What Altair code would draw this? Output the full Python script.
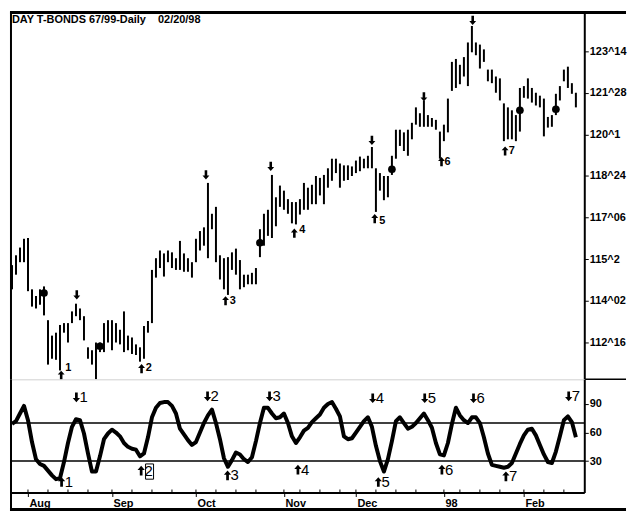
import altair as alt
import pandas as pd

# ---------------- data ----------------
high = [115.40, 115.77, 116.06, 116.39, 116.42, 114.49, 114.24, 114.49, 114.60, 113.33,
        112.75, 112.86, 113.15, 113.22, 113.22, 113.66, 113.95, 113.77, 113.48, 112.31,
        112.20, 112.49, 112.49, 113.22, 113.33, 113.33, 113.22, 112.97, 113.66, 112.75,
        112.68, 112.42, 112.31, 113.11, 113.30, 115.22, 115.66, 115.95, 115.84, 115.95,
        115.88, 115.66, 116.31, 115.84, 115.66, 115.51, 116.39, 116.68, 116.82, 118.49,
        117.33, 117.59, 115.77, 115.66, 115.70, 115.88, 116.02, 115.59, 115.04, 115.04,
        115.11, 115.29, 116.75, 117.33, 117.48, 118.79, 117.95, 118.39, 118.20, 117.88,
        117.77, 117.77, 117.88, 118.49, 118.31, 118.42, 118.75, 118.68, 118.79, 119.04,
        119.40, 119.40, 119.22, 119.15, 119.15, 119.11, 119.33, 119.48, 119.40, 119.51,
        119.84, 119.04, 118.86, 118.75, 118.75, 119.51, 120.49, 120.49, 120.39, 120.49,
        120.75, 121.33, 121.11, 121.59, 121.04, 120.93, 120.86, 120.42, 120.68, 121.66,
        123.04, 123.15, 122.93, 123.22, 123.77, 124.39, 123.77, 123.69, 123.51, 122.75,
        122.75, 122.49, 122.42, 121.48, 121.33, 121.22, 121.04, 122.06, 122.13, 122.42,
        122.06, 121.88, 121.77, 121.66, 120.97, 121.04, 121.84, 122.13, 122.75, 122.86,
        122.24, 121.88]

low = [114.49, 115.04, 115.51, 115.51, 114.42, 113.84, 113.77, 113.91, 113.51, 111.66,
       111.88, 111.84, 111.44, 112.86, 112.49, 113.22, 113.48, 113.33, 112.57, 111.88,
       111.66, 111.11, 112.13, 112.13, 112.49, 112.20, 112.49, 112.42, 112.13, 112.20,
       112.06, 112.02, 111.77, 111.88, 112.86, 113.22, 114.93, 115.29, 114.97, 115.51,
       115.29, 115.22, 115.22, 115.15, 115.15, 114.93, 115.51, 115.95, 116.13, 115.66,
       116.75, 115.51, 114.86, 114.49, 114.28, 115.22, 115.04, 114.49, 114.57, 114.68,
       114.68, 114.68, 115.70, 116.13, 116.50, 116.42, 116.86, 117.59, 117.48, 117.33,
       116.97, 116.93, 117.30, 117.48, 117.48, 117.69, 117.69, 118.02, 117.69, 118.31,
       118.57, 118.86, 118.31, 118.57, 118.60, 118.75, 118.86, 118.93, 119.04, 119.04,
       119.04, 117.40, 118.20, 117.84, 117.95, 118.79, 119.40, 119.88, 119.69, 119.51,
       120.13, 120.68, 120.60, 120.60, 120.60, 120.60, 120.49, 119.40, 120.06, 120.39,
       121.95, 122.06, 122.20, 122.49, 122.13, 123.40, 123.29, 122.79, 123.04, 122.31,
       122.24, 121.88, 121.59, 120.06, 120.13, 120.13, 120.06, 120.42, 121.69, 121.66,
       121.51, 121.40, 121.33, 120.24, 120.57, 120.60, 121.04, 121.59, 122.31, 122.06,
       121.84, 121.33]

osc = [69, 72, 80, 88, 73, 50, 32, 27, 25, 20,
       15, 11, 12, 29, 49, 66, 74, 73, 59, 38,
       19, 19, 35, 53, 59, 63, 60, 56, 49, 45,
       43, 42, 35, 38, 55, 76, 86, 91, 92, 92,
       88, 80, 64, 58, 52, 47, 50, 60, 70, 78,
       84, 70, 53, 33, 24, 31, 39, 37, 32, 29,
       34, 51, 70, 86, 86, 80, 75, 76, 80, 70,
       56, 49, 55, 62, 65, 71, 75, 79, 86, 90,
       92, 85, 77, 56, 53, 54, 60, 66, 72, 76,
       66, 46, 30, 19, 32, 51, 72, 76, 70, 64,
       66, 70, 75, 80, 73, 65, 49, 37, 36, 49,
       69, 86, 78, 73, 70, 76, 76, 70, 55, 38,
       26, 25, 24, 23, 24, 28, 38, 48, 57, 63,
       64, 57, 47, 37, 29, 28, 40, 56, 73, 77,
       71, 55]

bar_index = list(range(len(high)))

price_ticks = [123.4375, 121.875, 120.3125, 118.75, 117.1875, 115.625, 114.0625, 112.5]
price_tick_labels = ["123^14", "121^28", "120^1", "118^24", "117^06", "115^2", "114^02", "112^16"]

osc_ticks = [30, 60, 90]
osc_levels = [30, 70]

month_index = [4, 25, 46, 68, 86, 108, 128]
month_labels = ["Aug", "Sep", "Oct", "Nov", "Dec", "98", "Feb"]
week_index = [4, 9, 14, 19, 25, 30, 35, 40, 46, 51, 56, 61, 68, 72, 77, 82, 86, 91,
              96, 101, 108, 112, 117, 122, 128, 133, 138]

dot_index = [8, 22, 62, 95, 127, 136]
dot_price = [114.35, 112.35, 116.24, 119.00, 121.22, 121.26]

down_index = [16.2, 48.5, 64.7, 90.0, 103.0, 115.2]
down_price = [114.28, 118.79, 119.11, 120.09, 121.73, 124.60]

up_index = [12.3, 32.4, 53.4, 70.6, 90.7, 107.4, 123.3]
up_price = [111.26, 111.51, 114.06, 116.60, 117.15, 119.29, 119.69]
up_num_index = [14.1, 34.2, 55.2, 72.6, 92.6, 108.9, 125.0]
up_num_price = [111.55, 111.55, 114.06, 116.71, 117.04, 119.29, 119.69]
up_num = ["1", "2", "3", "4", "5", "6", "7"]

osc_down_arrow_index = [16.1, 48.9, 64.4, 90.2, 103.2, 115.4, 139.2]
osc_down_num_index = [17.9, 50.7, 66.2, 92.0, 105.0, 117.2, 141.0]
osc_down_value = [97, 98, 98, 96, 96, 96, 98]
osc_up_arrow_index = [12.4, 32.3, 53.9, 71.5, 91.6, 107.5, 123.5]
osc_up_num_index = [14.2, 34.2, 55.7, 73.3, 93.4, 109.3, 125.3]
osc_up_value = [8, 20, 15, 21, 8, 21, 14]
osc_num = ["1", "2", "3", "4", "5", "6", "7"]

title_text = "DAY T-BONDS 67/99-Daily\u00a0\u00a0\u00a0\u00a002/20/98"

# ---------------- layout ----------------
W = 578
HP = 370
HO = 114
FONT = "Liberation Sans"
DOWN = "M-0.28,-1 L0.28,-1 L0.28,0.15 L0.75,0.15 L0,1 L-0.75,0.15 L-0.28,0.15 Z"
UP = "M-0.28,1 L0.28,1 L0.28,-0.15 L0.75,-0.15 L0,-1 L-0.75,-0.15 L-0.28,-0.15 Z"

xscale = alt.Scale(domain=[-0.5, 143.1], nice=False, zero=False)
pscale = alt.Scale(domain=[111.11, 124.93], nice=False, zero=False)
oscale = alt.Scale(domain=[-3, 116], nice=False, zero=False)


def label_expr(values, labels):
    parts = [f"datum.value == {v} ? '{l}'" for v, l in zip(values, labels)]
    return " : ".join(parts) + " : ''"


axis_style = dict(grid=False, domainColor="black", domainWidth=2, tickColor="black",
                  tickSize=4, labelColor="black", labelFont=FONT, labelFontSize=11,
                  labelFontWeight="bold", title=None, labelPadding=1)

price_axis = alt.Axis(orient="right", values=price_ticks,
                      labelExpr=label_expr(price_ticks, price_tick_labels), **axis_style)
osc_axis = alt.Axis(orient="right", values=osc_ticks, **axis_style)
x_axis = alt.Axis(orient="bottom", values=month_index,
                  labelExpr=label_expr(month_index, month_labels),
                  labelAlign="left", labelOffset=1, labelFlush=False, labelOverlap=False,
                  **axis_style)

bars_df = pd.DataFrame({"i": bar_index, "high": high, "low": low})
osc_df = pd.DataFrame({"i": bar_index, "v": osc})
one = pd.DataFrame({"a": [0]})

XP = alt.X("i:Q", scale=xscale, axis=None)
YP = lambda f: alt.Y(f, scale=pscale, axis=price_axis)
XO = alt.X("i:Q", scale=xscale, axis=x_axis)
YO = lambda f: alt.Y(f, scale=oscale, axis=osc_axis)

bars = alt.Chart(bars_df).mark_rule(color="black", strokeWidth=2).encode(
    x=XP, y=YP("low:Q"), y2="high:Q")
dots = alt.Chart(pd.DataFrame({"i": dot_index, "p": dot_price})).mark_circle(
    color="black", size=60, opacity=1).encode(x=XP, y=YP("p:Q"))
downs = alt.Chart(pd.DataFrame({"i": down_index, "p": down_price})).mark_point(
    shape=DOWN, filled=True, color="black", opacity=1, size=85, strokeWidth=0).encode(
    x=XP, y=YP("p:Q"))
ups = alt.Chart(pd.DataFrame({"i": up_index, "p": up_price})).mark_point(
    shape=UP, filled=True, color="black", opacity=1, size=85, strokeWidth=0).encode(
    x=XP, y=YP("p:Q"))
up_nums = alt.Chart(pd.DataFrame({"i": up_num_index, "p": up_num_price, "t": up_num})).mark_text(
    font=FONT, fontWeight="bold", fontSize=11, color="black").encode(
    x=XP, y=YP("p:Q"), text="t:N")
title = alt.Chart(pd.DataFrame({"t": [title_text]})).mark_text(
    align="left", baseline="middle", font=FONT, fontWeight="bold", fontSize=11,
    color="black").encode(x=alt.value(2), y=alt.value(8), text="t:N")
top_border = alt.Chart(one).mark_rule(color="black", strokeWidth=3).encode(
    x=alt.value(0), x2=alt.value(W + 42), y=alt.value(1))
left_border_p = alt.Chart(one).mark_rule(color="black", strokeWidth=2).encode(
    x=alt.value(1), y=alt.value(0), y2=alt.value(HP))
sep = alt.Chart(one).mark_rule(color="black", strokeWidth=1.5).encode(
    x=alt.value(W), x2=alt.value(W + 42), y=alt.value(HP))

price = alt.layer(bars, dots, downs, ups, up_nums, title, top_border, left_border_p, sep).properties(
    width=W, height=HP)

osc_line = alt.Chart(osc_df).mark_line(color="black", strokeWidth=4, strokeJoin="round").encode(
    x=XO, y=YO("v:Q"))
levels = alt.Chart(pd.DataFrame({"v": osc_levels})).mark_rule(color="black", strokeWidth=1.5).encode(
    y=YO("v:Q"))
weeks = alt.Chart(pd.DataFrame({"i": week_index})).mark_rule(color="black", strokeWidth=1).encode(
    x=XO, y=alt.value(HO - 3), y2=alt.value(HO))
osc_down_arrows = alt.Chart(pd.DataFrame({"i": osc_down_arrow_index, "v": osc_down_value})).mark_point(
    shape=DOWN, filled=True, color="black", opacity=1, size=95, strokeWidth=0).encode(
    x=XO, y=YO("v:Q"))
osc_down_nums = alt.Chart(pd.DataFrame({"i": osc_down_num_index, "v": osc_down_value, "t": osc_num})).mark_text(
    font=FONT, fontSize=15, color="black").encode(x=XO, y=YO("v:Q"), text="t:N")
osc_up_arrows = alt.Chart(pd.DataFrame({"i": osc_up_arrow_index, "v": osc_up_value})).mark_point(
    shape=UP, filled=True, color="black", opacity=1, size=95, strokeWidth=0).encode(
    x=XO, y=YO("v:Q"))
osc_up_nums = alt.Chart(pd.DataFrame({"i": osc_up_num_index, "v": osc_up_value, "t": osc_num})).mark_text(
    font=FONT, fontSize=15, color="black").encode(x=XO, y=YO("v:Q"), text="t:N")
box = alt.Chart(pd.DataFrame({"i": [33.4], "i2": [35.4], "v": [27.0], "v2": [11.0]})).mark_rect(
    fillOpacity=0, stroke="black", strokeWidth=1).encode(
    x=XO, x2="i2:Q", y=YO("v:Q"), y2="v2:Q")
left_border_o = alt.Chart(one).mark_rule(color="black", strokeWidth=2).encode(
    x=alt.value(1), y=alt.value(0), y2=alt.value(HO + 17))
bottom_border = alt.Chart(one).mark_rule(color="black", strokeWidth=3).encode(
    x=alt.value(0), x2=alt.value(W + 42), y=alt.value(HO + 17))

oscp = alt.layer(osc_line, levels, weeks, osc_down_arrows, osc_down_nums, osc_up_arrows,
                 osc_up_nums, box, left_border_o, bottom_border).properties(width=W, height=HO)

chart = alt.vconcat(price, oscp, spacing=0, bounds="flush").properties(padding=0).configure_view(
    stroke=None).configure(font=FONT)

chart.save("out.html", embed_options={"renderer": "svg", "actions": False})
